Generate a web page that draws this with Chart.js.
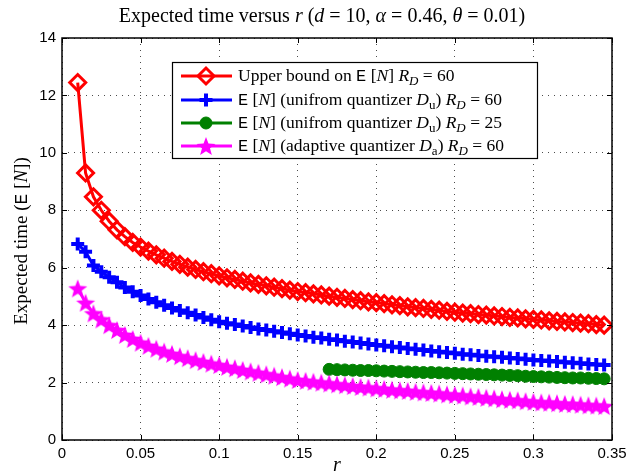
<!DOCTYPE html>
<html><head><meta charset="utf-8">
<script src="https://cdn.jsdelivr.net/npm/chart.js@4"></script>
<style>html,body{margin:0;padding:0;background:#fff}#wrap{width:641px;height:476px;position:relative}</style>
</head><body><div id="wrap"><canvas id="c"></canvas></div>
<script>
// ---- data ----
const rValues = [0.01,0.015,0.02,0.025,0.03,0.035,0.04,0.045,0.05,0.055,0.06,0.065,
  0.07,0.075,0.08,0.085,0.09,0.095,0.1,
  0.105,0.11,0.115,0.12,0.125,0.13,0.135,0.14,0.145,0.15,
  0.155,0.16,0.165,0.17,0.175,0.18,0.185,0.19,0.195,0.2,
  0.205,0.21,0.215,0.22,0.225,0.23,0.235,0.24,0.245,0.25,
  0.255,0.26,0.265,0.27,0.275,0.28,0.285,0.29,0.295,0.3,
  0.305,0.31,0.315,0.32,0.325,0.33,0.335,0.34,0.345];
const upperBound60 = [12.45,9.30,8.47,8.00,7.62,7.32,7.08,6.88,6.72,6.58,6.45,6.33,
  6.22,6.12,6.02,5.94,5.86,5.79,5.72,
  5.65,5.59,5.53,5.47,5.42,5.37,5.32,5.27,5.22,5.17,
  5.13,5.09,5.05,5.01,4.97,4.93,4.89,4.85,4.81,4.78,
  4.75,4.71,4.68,4.64,4.61,4.58,4.55,4.52,4.48,4.45,
  4.42,4.40,4.37,4.35,4.32,4.30,4.27,4.25,4.22,4.20,
  4.18,4.15,4.13,4.11,4.09,4.07,4.05,4.02,4.00];
const uniform60 = [6.83,6.56,6.08,5.86,5.67,5.49,5.31,5.16,5.03,4.91,4.80,4.69,
  4.60,4.51,4.43,4.35,4.27,4.19,4.12,
  4.07,4.02,3.97,3.92,3.87,3.83,3.79,3.74,3.70,3.66,
  3.62,3.58,3.55,3.51,3.48,3.44,3.41,3.38,3.34,3.31,
  3.28,3.25,3.22,3.19,3.16,3.13,3.10,3.07,3.05,3.02,
  2.99,2.97,2.94,2.92,2.90,2.88,2.86,2.84,2.81,2.79,
  2.77,2.75,2.73,2.71,2.69,2.67,2.65,2.63,2.61];
const uniform25R = [0.17,0.175,0.18,0.185,0.19,0.195,0.2,
  0.205,0.21,0.215,0.22,0.225,0.23,0.235,0.24,0.245,0.25,
  0.255,0.26,0.265,0.27,0.275,0.28,0.285,0.29,0.295,0.3,
  0.305,0.31,0.315,0.32,0.325,0.33,0.335,0.34,0.345];
const uniform25 = [2.46,2.45,2.44,2.43,2.42,2.42,2.41,
  2.40,2.39,2.38,2.37,2.36,2.35,2.35,2.34,2.33,2.32,
  2.31,2.30,2.29,2.28,2.27,2.26,2.25,2.24,2.22,2.21,
  2.20,2.19,2.18,2.17,2.16,2.16,2.15,2.14,2.13];
const adaptive60 = [5.28,4.78,4.41,4.20,4.00,3.83,3.66,3.52,3.39,3.28,3.18,3.08,
  3.00,2.92,2.85,2.78,2.72,2.66,2.61,
  2.55,2.50,2.44,2.39,2.34,2.29,2.24,2.19,2.14,2.09,
  2.06,2.03,2.00,1.97,1.94,1.91,1.88,1.85,1.83,1.80,
  1.78,1.75,1.73,1.71,1.68,1.66,1.64,1.62,1.59,1.57,
  1.55,1.52,1.50,1.47,1.45,1.42,1.40,1.38,1.35,1.33,
  1.31,1.30,1.28,1.26,1.25,1.23,1.21,1.20,1.18];
const xTicks = [0,0.05,0.1,0.15,0.2,0.25,0.3,0.35];
const xTickLabels = ['0','0.05','0.1','0.15','0.2','0.25','0.3','0.35'];
const yTicks = [0,2,4,6,8,10,12,14];

// ---- styling helpers ----
function starImage(R, color){
  const s = Math.ceil(R*2+2), c = document.createElement('canvas');
  c.width = c.height = s;
  const g = c.getContext('2d');
  g.fillStyle = color; g.beginPath();
  for (let k=0;k<10;k++){
    const rad = k%2 ? R*0.42 : R, a = -Math.PI/2 + k*Math.PI/5;
    g.lineTo(s/2 + rad*Math.cos(a), s/2 + 1 + rad*Math.sin(a));
  }
  g.closePath(); g.fill();
  return c;
}
const star = starImage(10, '#ff00ff');

const SERIF = '"Liberation Serif", "DejaVu Serif", serif';
function fontFor(st, size){
  switch(st){
    case 'i': return `italic ${size}px ${SERIF}`;
    case 'm': return `${Math.round(size*0.95)}px "Liberation Mono", monospace`;
    case 's': return `italic ${Math.round(size*0.72)}px ${SERIF}`;
    case 'u': return `${Math.round(size*0.72)}px ${SERIF}`;
    default: return `${size}px ${SERIF}`;
  }
}
function richWidth(ctx, segs, size){
  let w = 0;
  for (const [t, st] of segs){ ctx.font = fontFor(st, size); w += ctx.measureText(t).width; }
  return w;
}
function drawRich(ctx, segs, x, y, size, align){
  const w = richWidth(ctx, segs, size);
  let cx = align === 'center' ? x - w/2 : x;
  ctx.textBaseline = 'middle'; ctx.textAlign = 'left'; ctx.fillStyle = '#000';
  for (const [t, st] of segs){
    ctx.font = fontFor(st, size);
    const dy = (st === 's' || st === 'u') ? size*0.3 : 0;
    ctx.fillText(t, cx, y + dy);
    cx += ctx.measureText(t).width;
  }
}

const titleSegs = [['Expected time versus ','r'],['r','i'],[' (','r'],['d','i'],[' = 10, ','r'],['α','i'],[' = 0.46, ','r'],['θ','i'],[' = 0.01)','r']];
const yLabelSegs = [['Expected time (','r'],['E','m'],[' [','r'],['N','i'],['])','r']];
const legendSegs = [
  [['Upper bound on ','r'],['E','m'],[' [','r'],['N','i'],['] ','r'],['R','i'],['D','s'],[' = 60','r']],
  [['E','m'],[' [','r'],['N','i'],['] (unifrom quantizer ','r'],['D','i'],['u','u'],[') ','r'],['R','i'],['D','s'],[' = 60','r']],
  [['E','m'],[' [','r'],['N','i'],['] (unifrom quantizer ','r'],['D','i'],['u','u'],[') ','r'],['R','i'],['D','s'],[' = 25','r']],
  [['E','m'],[' [','r'],['N','i'],['] (adaptive quantizer ','r'],['D','i'],['a','u'],[') ','r'],['R','i'],['D','s'],[' = 60','r']]
];

const pts = (xs, ys) => xs.map((x,i)=>({x, y: ys[i]}));

const datasets = [
  {label:'Upper bound', data: pts(rValues, upperBound60), borderColor:'#ff0000', backgroundColor:'rgba(0,0,0,0)',
   borderWidth:3, pointStyle:'rectRot', pointRadius:8, pointBorderWidth:3, order:4},
  {label:'Uniform 60', data: pts(rValues, uniform60), borderColor:'#0000ff', backgroundColor:'#0000ff',
   borderWidth:3, pointStyle:'cross', pointRadius:6.5, pointBorderWidth:4, order:3},
  {label:'Uniform 25', data: pts(uniform25R, uniform25), borderColor:'#008000', backgroundColor:'#008000',
   borderWidth:3, pointStyle:'circle', pointRadius:6, pointBorderWidth:1, order:2},
  {label:'Adaptive 60', data: pts(rValues, adaptive60), borderColor:'#ff00ff', backgroundColor:'#ff00ff',
   borderWidth:3, pointStyle: star, pointRadius:10, pointBorderWidth:1, order:1}
];

const decor = {
  id:'decor',
  afterDatasetsDraw(chart){
    const {ctx, chartArea:a, scales:{x, y}} = chart;
    ctx.save();
    ctx.strokeStyle = '#000'; ctx.lineWidth = 1;
    ctx.beginPath();
    for (const v of xTicks){ const px = Math.round(x.getPixelForValue(v))+0.5;
      ctx.moveTo(px, a.bottom); ctx.lineTo(px, a.bottom-5); ctx.moveTo(px, a.top); ctx.lineTo(px, a.top+5); }
    for (const v of yTicks){ const py = Math.round(y.getPixelForValue(v))+0.5;
      ctx.moveTo(a.left, py); ctx.lineTo(a.left+5, py); ctx.moveTo(a.right, py); ctx.lineTo(a.right-5, py); }
    ctx.stroke();
    ctx.lineWidth = 1.5;
    ctx.strokeRect(a.left, a.top, a.right-a.left, a.bottom-a.top);
    // legend box
    const L = 172, T = 62, W = 365, H = 96;
    ctx.fillStyle = '#fff'; ctx.fillRect(L, T, W, H);
    ctx.lineWidth = 1.2; ctx.strokeStyle = '#000'; ctx.strokeRect(L+0.5, T+0.5, W, H);
    const rowsY = [76, 100, 123, 146];
    chart.data.datasets.forEach((ds, i) => {
      const yy = rowsY[i];
      ctx.strokeStyle = ds.borderColor; ctx.lineWidth = ds.borderWidth;
      ctx.beginPath(); ctx.moveTo(181, yy); ctx.lineTo(232, yy); ctx.stroke();
      ctx.fillStyle = ds.backgroundColor; ctx.strokeStyle = ds.borderColor; ctx.lineWidth = ds.pointBorderWidth;
      Chart.helpers.drawPoint(ctx, {pointStyle: ds.pointStyle, radius: ds.pointRadius, rotation:0, borderWidth: ds.pointBorderWidth}, 206, yy);
      drawRich(ctx, legendSegs[i], 238, yy, 17.5, 'left');
    });
    ctx.restore();
  },
  afterDraw(chart){
    const {ctx, chartArea:a} = chart;
    ctx.save();
    drawRich(ctx, titleSegs, 322, 17, 20, 'center');
    drawRich(ctx, [['r','i']], (a.left+a.right)/2, 466, 20, 'center');
    ctx.translate(22, 241);
    ctx.rotate(-Math.PI/2);
    drawRich(ctx, yLabelSegs, 0, 0, 19, 'center');
    ctx.restore();
  }
};

Chart.defaults.font.family = '"Liberation Sans", Arial, sans-serif';
Chart.defaults.font.size = 15;
Chart.defaults.color = '#000';

new Chart(document.getElementById('c'), {
  type: 'line',
  data: { datasets },
  options: {
    responsive: true, maintainAspectRatio: false, animation: false,
    layout: { padding: { left: 0, top: 38, right: 29, bottom: 0 } },
    plugins: { legend: { display: false }, title: { display: false }, tooltip: { enabled: false } },
    elements: { line: { tension: 0 } },
    scales: {
      x: { type: 'linear', min: 0, max: 0.35,
        afterBuildTicks: s => { s.ticks = xTicks.map(v => ({value: v})); },
        afterFit: s => { s.height = 36; },
        ticks: { padding: 5, maxRotation: 0, autoSkip: false, color:'#000',
          callback: (v, i) => xTickLabels[i] },
        grid: { drawTicks: false, color: 'rgba(0,0,0,0.7)', lineWidth: 1 },
        border: { display: false, dash: [1,5] }
      },
      y: { type: 'linear', min: 0, max: 14,
        afterBuildTicks: s => { s.ticks = yTicks.map(v => ({value: v})); },
        afterFit: s => { s.width = 62; },
        ticks: { padding: 6, color:'#000' },
        grid: { drawTicks: false, color: 'rgba(0,0,0,0.7)', lineWidth: 1 },
        border: { display: false, dash: [1,5] }
      }
    }
  },
  plugins: [decor]
});
</script>
</body></html>
